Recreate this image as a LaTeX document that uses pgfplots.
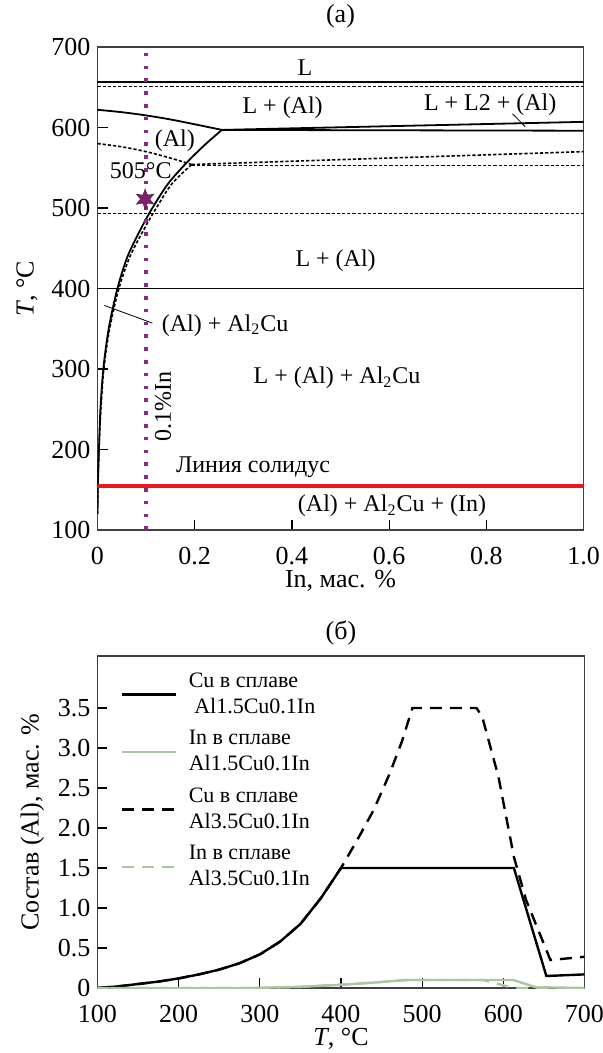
\documentclass[border=0pt]{standalone}
\usepackage{fontspec}
\setmainfont{Liberation Serif}
\usepackage{pgfplots}
\pgfplotsset{compat=1.18}

\definecolor{dotpurple}{RGB}{130,45,130}
\definecolor{starpurple}{RGB}{125,35,110}
\definecolor{sage}{RGB}{172,198,162}
\definecolor{solred}{RGB}{235,25,30}

% six-pointed star for the 505 C point
\pgfdeclareplotmark{star6}{%
  \pgfpathmoveto{\pgfpointpolar{90}{\pgfplotmarksize}}%
  \pgfpathlineto{\pgfpointpolar{120}{0.45\pgfplotmarksize}}%
  \pgfpathlineto{\pgfpointpolar{150}{\pgfplotmarksize}}%
  \pgfpathlineto{\pgfpointpolar{180}{0.45\pgfplotmarksize}}%
  \pgfpathlineto{\pgfpointpolar{210}{\pgfplotmarksize}}%
  \pgfpathlineto{\pgfpointpolar{240}{0.45\pgfplotmarksize}}%
  \pgfpathlineto{\pgfpointpolar{270}{\pgfplotmarksize}}%
  \pgfpathlineto{\pgfpointpolar{300}{0.45\pgfplotmarksize}}%
  \pgfpathlineto{\pgfpointpolar{330}{\pgfplotmarksize}}%
  \pgfpathlineto{\pgfpointpolar{0}{0.45\pgfplotmarksize}}%
  \pgfpathlineto{\pgfpointpolar{30}{\pgfplotmarksize}}%
  \pgfpathlineto{\pgfpointpolar{60}{0.45\pgfplotmarksize}}%
  \pgfpathclose
  \pgfusepathqfillstroke}

\tikzset{
  ann/.style={font=\fontsize{12}{14}\selectfont},
  fine dash/.style={black, line width=0.8pt, dash pattern=on 1.6pt off 1pt},
}

\begin{document}
\begin{tikzpicture}
\pgfplotsset{
  every axis/.append style={
    scale only axis,
    axis line style={black!75, line width=0.6pt},
    tick align=inside, xtick pos=bottom, ytick pos=left,
    major tick length=5pt,
    tick style={black, line width=0.6pt},
    /pgf/number format/assume math mode=true,
    tick label style={font=\fontsize{13}{15}\selectfont},
    xticklabel style={yshift=-5pt},
    label style={font=\fontsize{13}{15}\selectfont},
    xlabel style={yshift=4pt},
    title style={font=\fontsize{13}{15}\selectfont},
  },
}

% ---------------- (a) phase diagram
\begin{axis}[
  at={(0,0)}, anchor=south west,
  width=243pt, height=241.5pt,
  xmin=0, xmax=1, ymin=100, ymax=700,
  xtick={0,0.2,0.4,0.6,0.8,1},
  xticklabels={0,0.2,0.4,0.6,0.8,1.0},
  ytick={100,200,300,400,500,600,700},
  xlabel={In, мас. \%},
  ylabel={\textit{T}, °C},
  title={(а)},
  ]
  % liquidus lines
  \addplot[black, line width=0.9pt] coordinates {(0,657) (1,657)};
  \addplot[fine dash] coordinates {(0,651) (1,651)};
  \addplot[black, line width=0.9pt, smooth] coordinates {
    (0,622) (0.05,619) (0.1,615) (0.15,610) (0.2,604) (0.256,597)};
  \addplot[black, line width=0.9pt] coordinates {(0.256,597) (1,596)};
  \addplot[black, line width=0.9pt] coordinates {(0.256,597) (1,607)};
  \addplot[fine dash, smooth] coordinates {
    (0,580) (0.05,576) (0.1,570) (0.15,562) (0.194,554)};
  \addplot[fine dash] coordinates {(0.194,554) (1,570)};
  \addplot[fine dash] coordinates {(0.194,553) (1,553)};
  \addplot[fine dash] coordinates {(0,493) (1,493)};
  \addplot[black, line width=0.9pt] coordinates {(0,400) (1,400)};
  % solvus
  \addplot[black, line width=0.9pt, smooth] coordinates {
    (0,120) (0.001,160) (0.003,200) (0.006,250) (0.012,300) (0.023,350)
    (0.041,400) (0.062,440) (0.09,475) (0.113,500) (0.145,530)
    (0.183,556) (0.22,578) (0.256,597)};
  \addplot[fine dash, smooth] coordinates {
    (0,120) (0.001,160) (0.003,200) (0.007,250) (0.013,300) (0.025,350)
    (0.044,400) (0.067,440) (0.097,475) (0.121,500) (0.153,530) (0.194,554)};
  % solidus
  \addplot[solred, line width=2pt] coordinates {(0,155) (1,155)};
  % 0.1 % In section
  \addplot[dotpurple, line width=1.8pt, dash pattern=on 1.8pt off 4.6pt]
    coordinates {(0.1,100) (0.1,700)};
  \addplot[only marks, mark=star6, mark size=5pt,
    mark options={fill=starpurple, draw=starpurple!80!black, line width=0.3pt}]
    coordinates {(0.098,511)};

  \node[ann] at (axis cs:0.427,674) {L};
  \node[ann] at (axis cs:0.381,625) {L + (Al)};
  \node[ann] at (axis cs:0.808,628) {L + L2 + (Al)};
  \draw[black, line width=0.4pt] (axis cs:0.854,617) -- (axis cs:0.880,601);
  \node[ann] at (axis cs:0.159,583) {(Al)};
  \node[ann] at (axis cs:0.089,547) {505°C};
  \node[ann] at (axis cs:0.49,435) {L + (Al)};
  \node[ann, anchor=west] at (axis cs:0.118,354) {(Al) + Al\textsubscript{2}Cu};
  \draw[black, line width=0.4pt] (axis cs:0.014,379) -- (axis cs:0.113,357);
  \node[ann, rotate=90] at (axis cs:0.135,254) {0.1\%In};
  \node[ann] at (axis cs:0.493,289) {L + (Al) + Al\textsubscript{2}Cu};
  \node[ann] at (axis cs:0.32,178) {Линия солидус};
  \node[ann] at (axis cs:0.606,130) {(Al) + Al\textsubscript{2}Cu + (In)};
\end{axis}

% ---------------- (б) composition of (Al)
\begin{axis}[
  at={(0,-229pt)}, anchor=south west,
  width=243.5pt, height=166pt,
  xmin=100, xmax=700, ymin=0, ymax=4.15,
  xtick={100,200,300,400,500,600,700},
  ytick={0,0.5,1,1.5,2,2.5,3,3.5},
  yticklabels={0,0.5,1.0,1.5,2.0,2.5,3.0,3.5},
  xlabel={\textit{T}, °C},
  ylabel={Состав (Al), мас. \%},
  title={(б)},
  title style={yshift=-4pt},
  legend cell align=left,
  legend image code/.code={\draw[#1] (0cm,0cm) -- (0.95cm,0cm); \path (1.08cm,0cm);},
  legend style={draw=none, fill=none, at={(0.035,0.975)}, anchor=north west,
    font=\fontsize{11}{13}\selectfont, cells={align=left}, row sep=3pt},
  ]
  \addplot[black, line width=1.2pt] coordinates {
    (100,0) (125,0.02) (150,0.05) (175,0.08) (200,0.12) (225,0.17)
    (250,0.23) (275,0.31) (300,0.42) (325,0.58) (350,0.8) (375,1.12)
    (400,1.5) (613,1.5) (653,0.15) (700,0.17)};
  \addlegendentry{Cu в сплаве\\\ Al1.5Cu0.1In}
  \addplot[sage, line width=1.2pt] coordinates {
    (100,0) (290,0) (350,0.015) (400,0.04) (450,0.075) (480,0.1)
    (612,0.1) (640,0.01) (700,0)};
  \addlegendentry{In в сплаве\\Al1.5Cu0.1In}
  \addplot[black, line width=1.2pt, dash pattern=on 6pt off 4pt] coordinates {
    (100,0) (125,0.02) (150,0.05) (175,0.08) (200,0.12) (225,0.17)
    (250,0.23) (275,0.31) (300,0.42) (325,0.58) (350,0.8) (375,1.12)
    (400,1.5) (420,1.85) (440,2.22) (460,2.68) (475,3.08) (488,3.5)
    (567,3.5) (574,3.39) (594,2.64) (613,1.64) (628,1.1) (658,0.35) (700,0.39)};
  \addlegendentry{Cu в сплаве\\Al3.5Cu0.1In}
  \addplot[sage, line width=1.2pt, dash pattern=on 6pt off 4pt] coordinates {
    (100,0) (290,0) (350,0.015) (400,0.04) (450,0.075) (480,0.1)
    (575,0.1) (605,0.02) (620,0) (700,0)};
  \addlegendentry{In в сплаве\\Al3.5Cu0.1In}
\end{axis}
% frame the page as in the reference
\pgfresetboundingbox
\path (-48.75pt,-261.5pt) rectangle (252.75pt,265pt);
\end{tikzpicture}
\end{document}
